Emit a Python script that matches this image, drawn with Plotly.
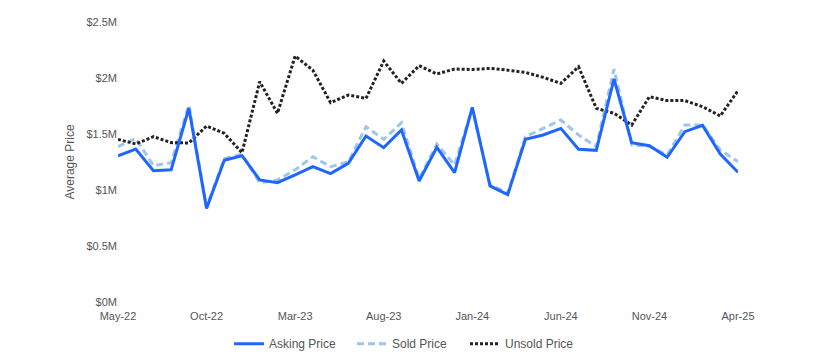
import plotly.graph_objects as go

months = ["May-22","Jun-22","Jul-22","Aug-22","Sep-22","Oct-22","Nov-22","Dec-22",
          "Jan-23","Feb-23","Mar-23","Apr-23","May-23","Jun-23","Jul-23","Aug-23",
          "Sep-23","Oct-23","Nov-23","Dec-23","Jan-24","Feb-24","Mar-24","Apr-24",
          "May-24","Jun-24","Jul-24","Aug-24","Sep-24","Oct-24","Nov-24","Dec-24",
          "Jan-25","Feb-25","Mar-25","Apr-25"]

asking = [1.306, 1.366, 1.172, 1.180, 1.730, 0.836, 1.265, 1.306,
          1.090, 1.065, 1.136, 1.208, 1.146, 1.238, 1.482, 1.378,
          1.536, 1.080, 1.381, 1.155, 1.738, 1.036, 0.958, 1.452,
          1.491, 1.550, 1.363, 1.354, 1.991, 1.423, 1.396, 1.292,
          1.521, 1.577, 1.321, 1.158]

sold = [1.387, 1.461, 1.217, 1.244, 1.759, 0.845, 1.280, 1.320,
        1.065, 1.090, 1.180, 1.297, 1.208, 1.250, 1.565, 1.452,
        1.601, 1.100, 1.411, 1.223, 1.730, 1.050, 0.970, 1.476,
        1.550, 1.625, 1.491, 1.387, 2.080, 1.402, 1.390, 1.312,
        1.580, 1.580, 1.357, 1.253]

unsold = [1.452, 1.411, 1.476, 1.423, 1.420, 1.571, 1.506, 1.333,
          1.967, 1.685, 2.196, 2.070, 1.780, 1.848, 1.818, 2.152,
          1.952, 2.110, 2.036, 2.080, 2.076, 2.086, 2.070, 2.050,
          2.006, 1.952, 2.100, 1.729, 1.685, 1.580, 1.833, 1.798,
          1.798, 1.744, 1.661, 1.887]

ytick_vals = [0, 0.5, 1.0, 1.5, 2.0, 2.5]
ytick_text = ["$0M", "$0.5M", "$1M", "$1.5M", "$2M", "$2.5M"]
xtick_labels = months[::5]

scale = 1_000_000
fig = go.Figure()
fig.add_trace(go.Scatter(x=months, y=[v * scale for v in sold], name="Sold Price",
                         mode="lines", line=dict(color="#9fc5e8", width=3, dash="7px,4px"),
                         legend="legend2"))
fig.add_trace(go.Scatter(x=months, y=[v * scale for v in unsold], name="Unsold Price",
                         mode="lines", line=dict(color="#222222", width=3, dash="3px,2px"),
                         legend="legend3"))
fig.add_trace(go.Scatter(x=months, y=[v * scale for v in asking], name="Asking Price",
                         mode="lines", line=dict(color="#1f66ff", width=3), legend="legend"))

W = 814.0


def leg(px):
    return dict(orientation="h", xref="container", x=px / W, xanchor="left",
                yref="container", y=0.045, yanchor="middle",
                font=dict(size=12, color="#555555"), itemwidth=30)


fig.update_layout(
    width=814, height=360,
    margin=dict(l=118, r=76, t=22, b=58, autoexpand=False),
    paper_bgcolor="white", plot_bgcolor="white",
    font=dict(family="Liberation Sans, Arial, sans-serif", size=11, color="#555555"),
    showlegend=True,
    legend=leg(229), legend2=leg(352), legend3=leg(465),
    xaxis=dict(type="category", tickmode="array", tickvals=xtick_labels, ticktext=xtick_labels,
               showgrid=False, showline=False, zeroline=False, range=[0, len(months) - 1],
               ticks="outside", ticklen=4, tickcolor="rgba(0,0,0,0)", automargin=False,
               tickfont=dict(size=11, color="#555555")),
    yaxis=dict(range=[0, 2.5 * scale], tickmode="array",
               tickvals=[v * scale for v in ytick_vals], ticktext=ytick_text,
               showgrid=False, showline=False, zeroline=False, ticks="", automargin=False,
               title=dict(text="Average Price", font=dict(size=12, color="#555555"), standoff=9),
               tickfont=dict(size=11, color="#555555")),
)

fig.write_html("out.html", config={"displayModeBar": False},
               post_script="document.body.style.margin='0';")
